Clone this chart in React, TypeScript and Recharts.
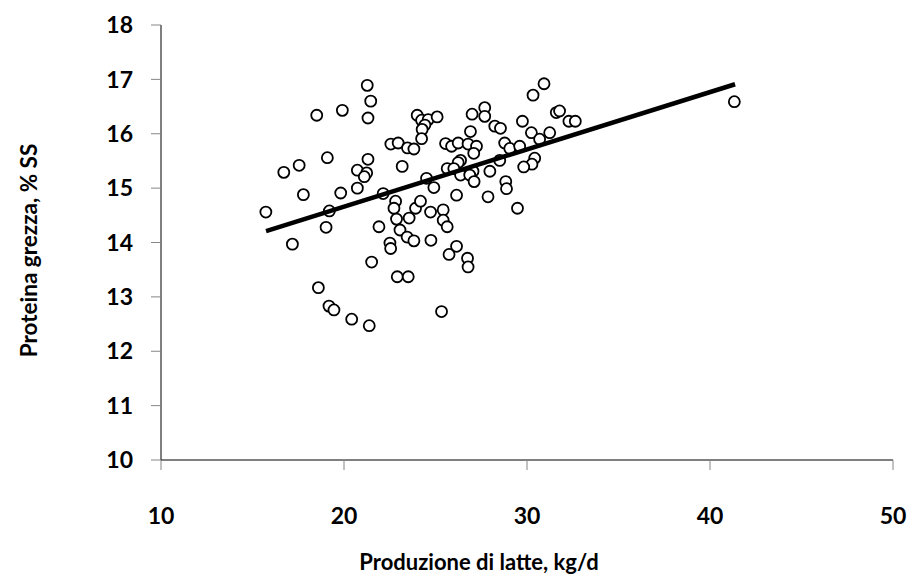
import React from "react";
import { ScatterChart, Scatter, XAxis, YAxis, Label } from "recharts";

// produzione di latte (kg/d) e proteina grezza (% SS) per ogni vacca
const milkYield = [
  21.27, 21.46, 19.91, 18.51, 21.31, 24.0, 22.56, 22.96, 23.47, 23.82,
  19.09, 17.55, 16.71, 21.31, 20.73, 21.24, 21.11, 23.18, 20.73, 17.78,
  19.82, 22.14, 22.82, 15.73, 19.2, 19.02, 17.18, 22.73, 23.91, 24.18,
  22.87, 23.56, 21.91, 23.06, 23.45, 23.82, 22.51, 22.55, 21.51, 22.91,
  23.51, 18.6, 19.18, 19.45, 20.42, 21.38, 30.93, 30.33, 24.24, 24.6,
  25.09, 24.42, 24.27, 24.24, 27.0, 27.69, 27.69, 26.91, 28.24, 28.55,
  29.75, 31.6, 31.78, 32.29, 32.64, 30.24, 30.69, 31.24, 25.55, 25.88,
  26.24, 26.78, 27.24, 27.09, 28.78, 29.06, 29.6, 28.51, 26.37, 26.24,
  25.64, 26.0, 27.05, 27.97, 26.37, 26.87, 30.42, 30.27, 29.82, 24.51,
  24.91, 27.11, 28.84, 28.88, 26.15, 27.87, 29.48, 24.73, 25.42, 25.42,
  25.64, 24.75, 26.15, 25.74, 26.75, 26.78, 25.33, 41.33,
];
const crudeProtein = [
  16.89, 16.6, 16.43, 16.34, 16.29, 16.34, 15.81, 15.83, 15.74, 15.72,
  15.56, 15.42, 15.29, 15.53, 15.33, 15.28, 15.21, 15.4, 15.0, 14.88,
  14.91, 14.9, 14.76, 14.56, 14.58, 14.28, 13.97, 14.63, 14.63, 14.76,
  14.43, 14.45, 14.29, 14.23, 14.1, 14.03, 13.99, 13.89, 13.64, 13.37,
  13.37, 13.17, 12.83, 12.76, 12.59, 12.47, 16.92, 16.71, 16.25, 16.26,
  16.31, 16.16, 16.08, 15.91, 16.36, 16.48, 16.32, 16.04, 16.14, 16.1,
  16.23, 16.39, 16.42, 16.23, 16.23, 16.02, 15.9, 16.02, 15.82, 15.77,
  15.83, 15.81, 15.77, 15.64, 15.83, 15.73, 15.77, 15.51, 15.51, 15.47,
  15.36, 15.36, 15.31, 15.31, 15.24, 15.24, 15.55, 15.44, 15.39, 15.18,
  15.01, 15.12, 15.12, 14.99, 14.87, 14.84, 14.63, 14.56, 14.6, 14.41,
  14.29, 14.04, 13.93, 13.78, 13.71, 13.55, 12.73, 16.59,
];

// retta di regressione (estremi)
const trendX = [15.74, 41.37];
const trendY = [14.21, 16.91];

const xTicks = [10, 20, 30, 40, 50];
const yTicks = [10, 11, 12, 13, 14, 15, 16, 17, 18];

const points = milkYield.map((x, i) => ({ x, y: crudeProtein[i] }));
const trend = trendX.map((x, i) => ({ x, y: trendY[i] }));

const font = "Lato, 'Open Sans', sans-serif";
const tickStyle = { fill: "#000", fontSize: 23, fontWeight: 700, fontFamily: font };

const OpenCircle = (props: any) => (
  <circle cx={props.cx} cy={props.cy} r={5.5} fill="#fff" stroke="#000" strokeWidth={1.8} />
);

export default function App() {
  return (
    <div style={{ position: "absolute", left: 0, top: 0, width: 915, height: 580, background: "#fff" }}>
      <ScatterChart
        width={915}
        height={580}
        margin={{ top: 25, right: 22, bottom: 10, left: 61 }}
      >
        <XAxis
          type="number"
          dataKey="x"
          domain={[10, 50]}
          ticks={xTicks}
          height={110}
          tick={tickStyle}
          tickSize={10}
          tickMargin={38}
          tickLine={{ stroke: "#868686" }}
          axisLine={{ stroke: "#000" }}
          allowDataOverflow
        >
          <Label
            content={({ viewBox }: any) => (
              <text
                x={viewBox.x + 318}
                y={viewBox.y + 110}
                textAnchor="middle"
                fontSize={22}
                fontWeight={700}
                fontFamily={font}
                fill="#000"
              >
                Produzione di latte, kg/d
              </text>
            )}
          />
        </XAxis>
        <YAxis
          type="number"
          dataKey="y"
          domain={[10, 18]}
          ticks={yTicks}
          width={100}
          tick={tickStyle}
          tickSize={10}
          tickMargin={18}
          tickLine={{ stroke: "#868686" }}
          axisLine={{ stroke: "#000" }}
          allowDataOverflow
        >
          <Label
            content={({ viewBox }: any) => {
              const cx = viewBox.x - 33;
              const cy = viewBox.y + viewBox.height / 2 + 8;
              return (
                <text
                  x={cx}
                  y={cy}
                  transform={`rotate(-90 ${cx} ${cy})`}
                  textAnchor="middle"
                  dominantBaseline="central"
                  fontSize={22.5}
                  fontWeight={700}
                  fontFamily={font}
                  fill="#000"
                >
                  Proteina grezza, % SS
                </text>
              );
            }}
          />
        </YAxis>
        <Scatter data={points} shape={OpenCircle} isAnimationActive={false} />
        <Scatter
          data={trend}
          line={{ stroke: "#000", strokeWidth: 4.5 }}
          shape={() => <g />}
          isAnimationActive={false}
        />
      </ScatterChart>
    </div>
  );
}
